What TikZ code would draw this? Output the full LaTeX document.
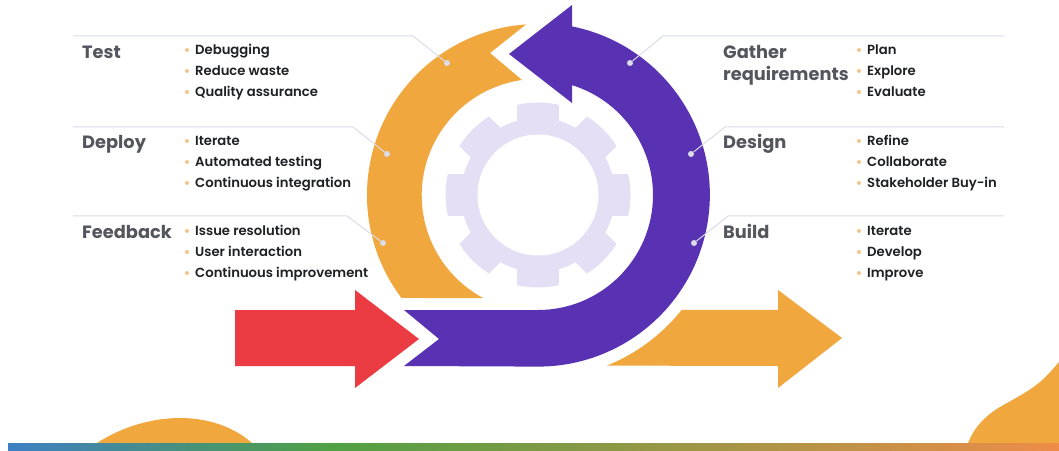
\documentclass[tikz,border=0pt]{standalone}
\usepackage{fontspec}
\setmainfont{Poppins}
\newfontfamily\titlefont{Poppins Bold}
\newfontfamily\itemfont{Poppins SemiBold}
\definecolor{purp}{HTML}{5932B4}
\definecolor{oran}{HTML}{F0A73E}
\definecolor{redd}{HTML}{EA3C42}
\definecolor{gearc}{HTML}{E4DFF5}
\definecolor{leadc}{HTML}{DADCE8}
\definecolor{titlec}{HTML}{54565E}
\definecolor{itemc}{HTML}{1F2026}
\definecolor{bulc}{HTML}{F4C48A}
\definecolor{barblue}{HTML}{3D7FC4}
\definecolor{bargreen}{HTML}{4FA043}
\definecolor{barorange}{HTML}{EE8C48}
\tikzset{
  titlenode/.style={anchor=base west,inner sep=0pt,text=titlec,font=\titlefont\fontsize{17.8}{17.8}\selectfont},
  itemnode/.style={anchor=base west,inner sep=0pt,text=itemc,font=\itemfont\fontsize{13.2}{13.2}\selectfont},
  bulnode/.style={circle,fill=bulc,inner sep=0pt,minimum size=4pt},
  dotnode/.style={circle,fill=#1,inner sep=0pt,minimum size=6pt},
  leader/.style={draw=leadc,line width=1pt},
}
\newcommand{\itemrow}[4]{%
  \node[bulnode] (#4b) at (#1,#3+4.5) {};
  \node[itemnode] (#4) at (#1+8,#3) {#2};
}
\begin{document}
\begin{tikzpicture}[x=1pt,y=1pt]
\useasboundingbox (0,0) rectangle (1059,450);
\fill[white] (0,0) rectangle (1059,450);
% gear
\begin{scope}
  \clip (538,255) circle (92.5);
  \foreach \a in {0,45,...,315}
    \fill[gearc,rotate around={\a:(538,255)}] (517,255) rectangle (559,350);
\end{scope}
\fill[gearc] (538,255) circle (77);
\fill[white] (538,255) circle (60.5);
% orange arc
\fill[oran] ([shift={(538,255)}]217:171) arc[start angle=217,end angle=94,radius=171]
  -- (490,397) -- (522,370) arc[start angle=98,end angle=242,radius=116.5] -- cycle;
% purple arrow
\fill[purp] (404,140) -- (538,140) arc[start angle=-90,end angle=72.8,radius=115]
  -- (572,347) -- (509,396) -- (572,445) -- (572,423.6)
  arc[start angle=78.6,end angle=-90,radius=171.8] -- (404,84) -- (439,111) -- cycle;
% red arrow
\fill[redd] (235,140) -- (355,140) -- (355,160) -- (419,111) -- (355,62) -- (355,84) -- (235,84) -- cycle;
% orange arrow
\fill[oran] ([shift={(538,255)}]-68:184) arc[start angle=-68,end angle=-38.6,radius=184]
  -- (778,140) -- (778,160) -- (842,112) -- (778,62) -- (778,84) -- cycle;
% leader lines
\coordinate (tA) at (73,414); \coordinate (tB) at (413,414);
\coordinate (dA) at (73,323); \coordinate (dB) at (353,323);
\coordinate (fA) at (73,234); \coordinate (fB) at (347,234);
\coordinate (gA) at (1004,414); \coordinate (gB) at (663,414);
\coordinate (sA) at (1004,323); \coordinate (sB) at (725,323);
\coordinate (uA) at (1004,234); \coordinate (uB) at (728,234);
\node[dotnode=leadc] (tD) at (447,387) {};
\node[dotnode=leadc] (dD) at (387,296) {};
\node[dotnode=leadc] (fD) at (383,207) {};
\node[dotnode=leadc] (gD) at (630,387) {};
\node[dotnode=leadc] (sD) at (691,296) {};
\node[dotnode=leadc] (uD) at (694,207) {};
\draw[leader] (tA) -- (tB) -- (tD);
\draw[leader] (dA) -- (dB) -- (dD);
\draw[leader] (fA) -- (fB) -- (fD);
\draw[leader] (gA) -- (gB) -- (gD);
\draw[leader] (sA) -- (sB) -- (sD);
\draw[leader] (uA) -- (uB) -- (uD);
% titles
\node[titlenode] (test) at (82,391) {Test};
\node[titlenode] (deploy) at (82,301) {Deploy};
\node[titlenode] (feedback) at (82,211) {Feedback};
\node[titlenode] (gather) at (723,391) {Gather};
\node[titlenode] (requirements) at (723,369) {requirements};
\node[titlenode] (design) at (723,301) {Design};
\node[titlenode] (build) at (723,211) {Build};
% items
\itemrow{187}{Debugging}{395.5}{i1}
\itemrow{187}{Reduce waste}{374.5}{i2}
\itemrow{187}{Quality assurance}{353.5}{i3}
\itemrow{187}{Iterate}{304.5}{i4}
\itemrow{187}{Automated testing}{283.5}{i5}
\itemrow{187}{Continuous integration}{262.5}{i6}
\itemrow{187}{Issue resolution}{214.5}{i7}
\itemrow{187}{User interaction}{193.5}{i8}
\itemrow{187}{Continuous improvement}{172.5}{i9}
\itemrow{859}{Plan}{395.5}{j1}
\itemrow{859}{Explore}{374.5}{j2}
\itemrow{859}{Evaluate}{353.5}{j3}
\itemrow{859}{Refine}{304.5}{j4}
\itemrow{859}{Collaborate}{283.5}{j5}
\itemrow{859}{Stakeholder Buy-in}{262.5}{j6}
\itemrow{859}{Iterate}{214.5}{j7}
\itemrow{859}{Develop}{193.5}{j8}
\itemrow{859}{Improve}{172.5}{j9}
% bottom blobs
\fill[oran] (97,7) .. controls (125,25) and (155,32) .. (180,32) .. controls (210,32) and (235,22) .. (252,7) -- cycle;
\fill[oran] (968,7) .. controls (973,20) and (983,33) .. (1000,43) .. controls (1012,50) and (1028,58) .. (1040,68) .. controls (1047,74) and (1053,81) .. (1059,88) -- (1059,7) -- cycle;
% bar
\shade[left color=barblue,right color=bargreen] (8,0) rectangle (330,7);
\shade[left color=bargreen,right color=barorange] (330,0) rectangle (1059,7);
\end{tikzpicture}
\end{document}
